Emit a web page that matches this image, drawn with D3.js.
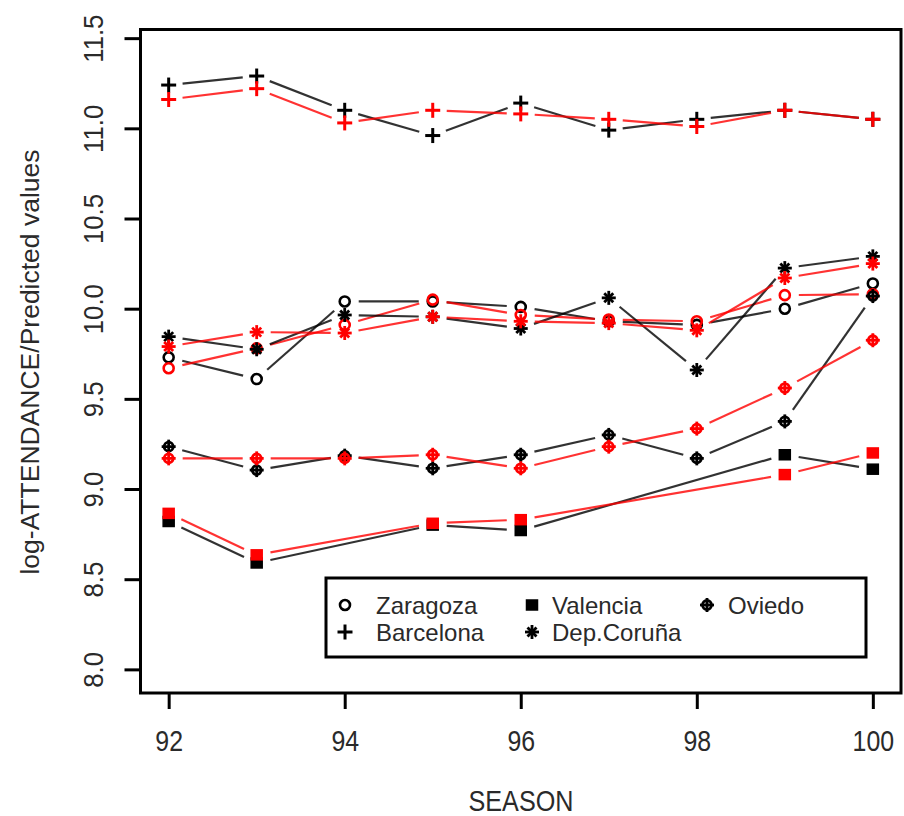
<!DOCTYPE html>
<html>
<head>
<meta charset="utf-8">
<script src="https://cdn.jsdelivr.net/npm/d3@7"></script>
<style>
  html, body { margin: 0; padding: 0; background: #fff; }
  svg { display: block; }
  text { font-family: "Liberation Sans", Arial, Helvetica, sans-serif; fill: #2a2a2a; }
</style>
</head>
<body>
<svg id="chart" width="904" height="816"></svg>
<script>
// Seasons on the x axis
const seasons = [92, 93, 94, 95, 96, 97, 98, 99, 100];
const xTicks = [92, 94, 96, 98, 100];
const yTicks = [8.0, 8.5, 9.0, 9.5, 10.0, 10.5, 11.0, 11.5];

// Team names, in legend order
const teams = ["Zaragoza", "Barcelona", "Valencia", "Dep.Coruña", "Oviedo"];

// Observed log-attendance (null = season not available)
const zaragozaObs  = [9.73, 9.61, 10.04, 10.04, 10.01, 9.93, 9.91, 10.00, 10.14];
const barcelonaObs = [11.24, 11.29, 11.10, 10.96, 11.14, 10.99, 11.05, 11.10, 11.05];
const valenciaObs  = [8.82, 8.59, null, 8.80, 8.77, null, null, 9.19, 9.11];
const coruniaObs   = [9.845, 9.775, 9.965, 9.955, 9.89, 10.06, 9.66, 10.225, 10.29];
const oviedoObs    = [9.235, 9.105, 9.185, 9.115, 9.19, 9.30, 9.17, 9.375, 10.07];

// Predicted values
const zaragozaPred  = [9.67, 9.78, 9.91, 10.05, 9.965, 9.94, 9.93, 10.075, 10.08];
const barcelonaPred = [11.16, 11.22, 11.03, 11.10, 11.08, 11.05, 11.01, 11.10, 11.05];
const valenciaPred  = [8.865, 8.635, null, 8.81, 8.83, null, null, 9.08, 9.20];
const coruniaPred   = [9.79, 9.87, 9.865, 9.955, 9.93, 9.92, 9.88, 10.17, 10.25];
const oviedoPred    = [9.17, 9.17, 9.17, 9.19, 9.115, 9.235, 9.335, 9.56, 9.825];

const observed  = [zaragozaObs, barcelonaObs, valenciaObs, coruniaObs, oviedoObs];
const predicted = [zaragozaPred, barcelonaPred, valenciaPred, coruniaPred, oviedoPred];
const symbols   = ["circle", "plus", "square", "asterisk", "circleplus"];

const svg = d3.select("#chart");
const box = { left: 140.5, right: 901, top: 29.5, bottom: 693 };

const x = d3.scaleLinear().domain([91.68, 100.32]).range([box.left, box.right]);
const y = d3.scaleLinear().domain([7.869, 11.548]).range([box.bottom, box.top]);

// Marker drawing (R-like point characters)
function drawSymbol(g, kind, cx, cy, color) {
  const s = g.append("g").attr("transform", `translate(${cx},${cy})`)
    .attr("stroke", color).attr("fill", "none").attr("stroke-linecap", "butt");
  if (kind === "circle") {
    s.append("circle").attr("r", 5).attr("stroke-width", 2.6);
  } else if (kind === "plus") {
    s.attr("stroke-width", 3);
    s.append("line").attr("x1", -7.5).attr("x2", 7.5).attr("y1", 0).attr("y2", 0);
    s.append("line").attr("x1", 0).attr("x2", 0).attr("y1", -7.5).attr("y2", 7.5);
  } else if (kind === "square") {
    s.append("rect").attr("x", -5.5).attr("y", -5).attr("width", 11).attr("height", 10)
      .attr("fill", color).attr("stroke-width", 1.5);
  } else if (kind === "asterisk") {
    s.attr("stroke-width", 2.8);
    s.append("line").attr("x1", -7).attr("x2", 7).attr("y1", 0).attr("y2", 0);
    s.append("line").attr("x1", 0).attr("x2", 0).attr("y1", -7).attr("y2", 7);
    s.append("line").attr("x1", -4.5).attr("x2", 4.5).attr("y1", -4.5).attr("y2", 4.5);
    s.append("line").attr("x1", -4.5).attr("x2", 4.5).attr("y1", 4.5).attr("y2", -4.5);
  } else if (kind === "circleplus") {
    s.attr("stroke-width", 2.8);
    s.append("circle").attr("r", 4.5);
    s.append("line").attr("x1", -7).attr("x2", 7).attr("y1", 0).attr("y2", 0);
    s.append("line").attr("x1", 0).attr("x2", 0).attr("y1", -7).attr("y2", 7);
  }
}

// Lines with gaps around points ("both" style)
const gap = 14;
function drawSeries(values, kind, color) {
  const pts = seasons.map((s, i) => ({ s, v: values[i] }))
    .filter(d => d.v !== null)
    .map(d => [x(d.s), y(d.v)]);
  const g = svg.append("g");
  for (let i = 0; i < pts.length - 1; i++) {
    const [x1, y1] = pts[i], [x2, y2] = pts[i + 1];
    const len = Math.hypot(x2 - x1, y2 - y1);
    if (len <= 2 * gap) continue;
    const ux = (x2 - x1) / len, uy = (y2 - y1) / len;
    g.append("line")
      .attr("x1", x1 + ux * gap).attr("y1", y1 + uy * gap)
      .attr("x2", x2 - ux * gap).attr("y2", y2 - uy * gap)
      .attr("stroke", color).attr("stroke-width", 2.2).attr("opacity", 0.8);
  }
  pts.forEach(p => drawSymbol(g, kind, p[0], p[1], color));
}

teams.forEach((t, i) => {
  drawSeries(observed[i], symbols[i], "#000000");
  drawSeries(predicted[i], symbols[i], "#ff0000");
});

// Plot frame
svg.append("rect")
  .attr("x", box.left).attr("y", box.top)
  .attr("width", box.right - box.left).attr("height", box.bottom - box.top)
  .attr("fill", "none").attr("stroke", "#000").attr("stroke-width", 3);

// X axis (labels drawn tall and narrow)
const xAxis = svg.append("g").attr("transform", `translate(0,${box.bottom})`)
  .call(d3.axisBottom(x).tickValues(xTicks).tickSize(16).tickPadding(21).tickFormat(d3.format("d")));
xAxis.select(".domain").remove();
xAxis.selectAll(".tick line").attr("stroke", "#000").attr("stroke-width", 3);
xAxis.selectAll(".tick text").attr("font-size", 30).attr("fill", "#2a2a2a")
  .attr("font-family", "Liberation Sans, Arial, sans-serif")
  .attr("transform", "scale(0.83,1)");

// Y axis (rotated labels)
const yAxis = svg.append("g").attr("transform", `translate(${box.left},0)`)
  .call(d3.axisLeft(y).tickValues(yTicks).tickSize(16).tickFormat(d3.format(".1f")));
yAxis.select(".domain").remove();
yAxis.selectAll(".tick line").attr("stroke", "#000").attr("stroke-width", 3);
yAxis.selectAll(".tick text")
  .attr("font-size", 28).attr("fill", "#2a2a2a")
  .attr("font-family", "Liberation Sans, Arial, sans-serif")
  .attr("x", null).attr("dy", null)
  .attr("text-anchor", "middle")
  .attr("transform", `translate(${103 - box.left},0) rotate(-90) scale(0.92,1)`);

// Axis titles
svg.append("text").attr("transform", "translate(521,811) scale(0.84,1)")
  .attr("text-anchor", "middle").attr("font-size", 30).text("SEASON");
svg.append("text").attr("transform", "translate(39,362) rotate(-90)")
  .attr("text-anchor", "middle").attr("font-size", 26.5)
  .text("log-ATTENDANCE/Predicted values");

// Legend
const legend = svg.append("g");
legend.append("rect").attr("x", 326).attr("y", 578).attr("width", 540).attr("height", 79)
  .attr("fill", "#fff").attr("stroke", "#000").attr("stroke-width", 3);
const legendCols = [[345, 376], [532, 552], [707, 728]];
const legendRows = [605, 632];
// column-major order, three columns
teams.forEach((t, i) => {
  const col = Math.floor(i / 2), row = i % 2;
  const [sx, tx] = legendCols[col];
  const ly = legendRows[row];
  drawSymbol(legend, symbols[i], sx, ly, "#000");
  legend.append("text").attr("x", tx).attr("y", ly + 8.5)
    .attr("font-size", 24).text(t);
});
</script>
</body>
</html>
